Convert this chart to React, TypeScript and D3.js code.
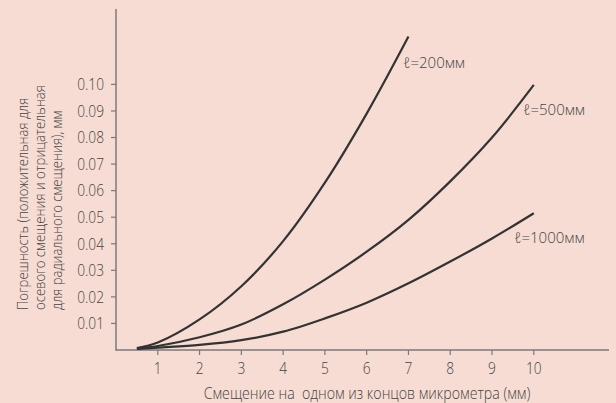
import React from "react";
import * as d3 from "d3";

const xTicks = [1, 2, 3, 4, 5, 6, 7, 8, 9, 10];
const yTicks = [0.01, 0.02, 0.03, 0.04, 0.05, 0.06, 0.07, 0.08, 0.09, 0.1];
const yTickLabels = ["0.01", "0.02", "0.03", "0.04", "0.05", "0.06", "0.07", "0.08", "0.09", "0.10"];

const x200 = [0.5, 1, 2, 3, 4, 5, 6, 7];
const y200 = [0.0007, 0.0028, 0.0115, 0.024, 0.041, 0.063, 0.089, 0.118];
const x500 = [0.5, 1, 2, 3, 4, 5, 6, 7, 8, 9, 10];
const y500 = [0.0005, 0.0015, 0.0048, 0.0096, 0.0172, 0.0265, 0.037, 0.049, 0.0635, 0.080, 0.0998];
const x1000 = [0.5, 1, 2, 3, 4, 5, 6, 7, 8, 9, 10];
const y1000 = [0.0004, 0.0009, 0.0019, 0.0037, 0.0069, 0.0119, 0.0178, 0.0251, 0.0333, 0.042, 0.0515];

const seriesLabels = ["ℓ=200мм", "ℓ=500мм", "ℓ=1000мм"];
const yTitleLines = [
  "Погрешность (положительная для",
  "осевого смещения и отрицательная",
  "для радиального смещения), мм",
];
const xTitle = "Смещение на  одном из концов микрометра (мм)";

const FONT = "'Open Sans', Roboto, sans-serif";
const tStyle: React.CSSProperties = { fontWeight: 300, whiteSpace: "pre" };

export default function App() {
  const W = 616, H = 403;
  const x = d3.scaleLinear().domain([0, 10]).range([116, 533.8]);
  const y = d3.scaleLinear().domain([0, 0.1]).range([350, 84.4]);
  const line = d3
    .line<[number, number]>()
    .x((d) => x(d[0]))
    .y((d) => y(d[1]))
    .curve(d3.curveCatmullRom.alpha(0.5));

  const series = [
    { xs: x200, ys: y200, label: seriesLabels[0], lx: 403, ly: 68 },
    { xs: x500, ys: y500, label: seriesLabels[1], lx: 523, ly: 115 },
    { xs: x1000, ys: y1000, label: seriesLabels[2], lx: 514, ly: 243 },
  ];

  const axisColor = "#7a7a7a";
  const textColor = "#454545";
  const sx = 0.86;

  return (
    <div style={{ position: "fixed", left: 0, top: 0, width: W, height: H }}>
      <svg width={W} height={H} style={{ display: "block" }}>
        <rect x={0} y={0} width={W} height={H} fill="#F6DCD2" />
        <line x1={116} y1={9} x2={116} y2={350.5} stroke={axisColor} strokeWidth={1.5} />
        <line x1={115.5} y1={350} x2={609} y2={350} stroke={axisColor} strokeWidth={1.5} />
        {yTicks.map((t, i) => (
          <g key={"y" + i}>
            <line x1={111} x2={116} y1={y(t)} y2={y(t)} stroke={axisColor} strokeWidth={1.2} />
            <g transform={`translate(104,${y(t)}) scale(${sx},1)`}>
              <text dy="0.36em" textAnchor="end" fontFamily={FONT} fontSize={16} fill={textColor} style={tStyle}>
                {yTickLabels[i]}
              </text>
            </g>
          </g>
        ))}
        {xTicks.map((t, i) => (
          <g key={"x" + i}>
            <line x1={x(t)} x2={x(t)} y1={350} y2={355} stroke={axisColor} strokeWidth={1.2} />
            <g transform={`translate(${x(t)},374) scale(${sx},1)`}>
              <text textAnchor="middle" fontFamily={FONT} fontSize={16} fill={textColor} style={tStyle}>
                {t}
              </text>
            </g>
          </g>
        ))}
        {series.map((s, i) => (
          <path
            key={"s" + i}
            d={line(s.xs.map((v, j) => [v, s.ys[j]] as [number, number])) || ""}
            fill="none"
            stroke="#333333"
            strokeWidth={2.2}
          />
        ))}
        {series.map((s, i) => (
          <text key={"l" + i} x={s.lx} y={s.ly} fontFamily={FONT} fontSize={15} fill={textColor} style={tStyle}>
            {s.label}
          </text>
        ))}
        <g transform="translate(367,399) scale(0.915,1)">
          <text textAnchor="middle" fontFamily={FONT} fontSize={15.5} fill={textColor} style={tStyle}>
            {xTitle}
          </text>
        </g>
        {yTitleLines.map((l, i) => (
          <text
            key={"t" + i}
            transform={`translate(${28 + i * 17},310) rotate(-90) scale(0.875,1)`}
            textAnchor="start"
            fontFamily={FONT}
            fontSize={15}
            fill={textColor}
            style={tStyle}
          >
            {l}
          </text>
        ))}
      </svg>
    </div>
  );
}
